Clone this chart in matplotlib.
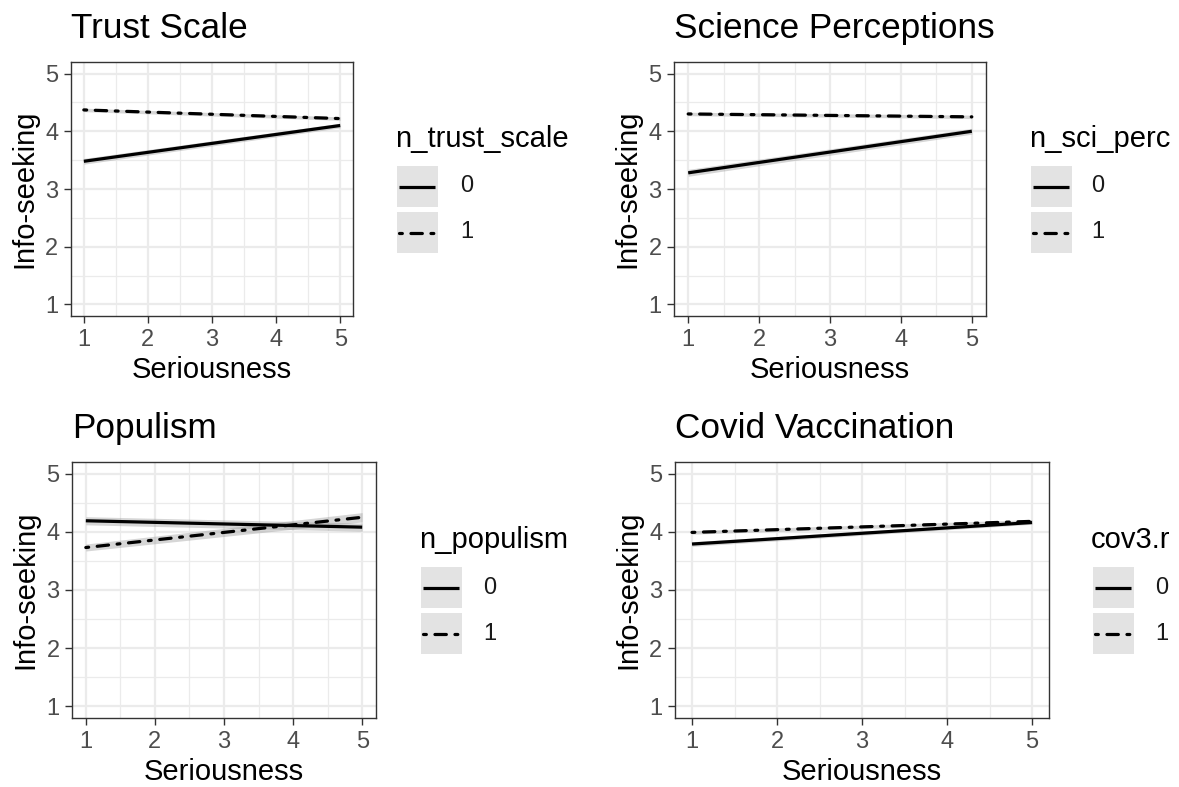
import matplotlib
matplotlib.use("Agg")
import matplotlib.pyplot as plt
from matplotlib.patches import Rectangle
from matplotlib.lines import Line2D
from matplotlib.ticker import MultipleLocator

plt.rcParams['font.family'] = ['Liberation Sans', 'DejaVu Sans']
plt.rcParams['lines.scale_dashes'] = False

# ---- data (linear fits, ends at seriousness = 1 and 5) ----
panel_titles = ["Trust Scale", "Science Perceptions", "Populism", "Covid Vaccination"]
legend_titles = ["n_trust_scale", "n_sci_perc", "n_populism", "cov3.r"]
group_labels = ["0", "1"]
x_ends = [1, 5]
fit_grp0 = [[3.48, 4.10], [3.28, 4.00], [4.19, 4.08], [3.79, 4.16]]
fit_grp1 = [[4.37, 4.22], [4.30, 4.25], [3.73, 4.25], [3.99, 4.18]]
ci_grp0 = [[0.05, 0.04], [0.06, 0.05], [0.07, 0.07], [0.04, 0.03]]
ci_grp1 = [[0.03, 0.03], [0.03, 0.03], [0.06, 0.08], [0.03, 0.03]]
ticks = [1, 2, 3, 4, 5]

W, H = 1179, 787
fig = plt.figure(figsize=(W / 100, H / 100), dpi=100)

# panel boxes in pixels: left, top, right, bottom
panel_px = [(71, 62, 353, 316), (674, 62, 986, 316),
            (72, 462, 376, 718), (675, 462, 1049, 718)]
# legend: key left x, key top y, label x
legend_px = [(397, 166, 460), (1031, 166, 1091), (421, 567, 483), (1093, 567, 1155)]

LW = 2.3
DOTDASH = (0, (2.05, 6.2, 8.2, 6.2))
styles = [dict(ls='-', solid_capstyle='butt'),
          dict(ls=DOTDASH, dash_capstyle='round')]
band_col = '#999999'


def fx(px):
    return px / W


def fy(py):
    return 1 - py / H


for i in range(4):
    l, t, r, b = panel_px[i]
    ax = fig.add_axes([fx(l), fy(b), (r - l) / W, (b - t) / H])
    fits = [fit_grp0[i], fit_grp1[i]]
    cis = [ci_grp0[i], ci_grp1[i]]
    for g in range(2):
        lo = [y - c for y, c in zip(fits[g], cis[g])]
        hi = [y + c for y, c in zip(fits[g], cis[g])]
        ax.fill_between(x_ends, lo, hi, color=band_col, alpha=0.4, lw=0, zorder=2)
        ax.plot(x_ends, fits[g], color='black', lw=LW, zorder=3, **styles[g])

    ax.set_xlim(0.8, 5.2)
    ax.set_ylim(0.8, 5.2)
    ax.set_xticks(ticks)
    ax.set_yticks(ticks)
    ax.xaxis.set_minor_locator(MultipleLocator(0.5))
    ax.yaxis.set_minor_locator(MultipleLocator(0.5))
    ax.grid(which='major', color='#ebebeb', lw=1.6)
    ax.grid(which='minor', color='#ebebeb', lw=0.9)
    ax.set_axisbelow(True)
    ax.tick_params(which='major', length=5, width=1.0, color='#333333',
                   labelcolor='#4d4d4d', labelsize=17, pad=4)
    ax.tick_params(which='minor', length=0)
    for s in ax.spines.values():
        s.set_color('#333333')
        s.set_linewidth(1.0)
    ax.set_xlabel('Seriousness', fontsize=21, labelpad=4)
    ax.set_ylabel('Info-seeking', fontsize=21, labelpad=5)
    ax.set_title(panel_titles[i], loc='left', fontsize=25.3, pad=17)

    # legend drawn by hand, ggplot style
    kx, ky, tx = legend_px[i]
    kw, kh, gap = 41, 41, 5
    fig.text(fx(kx - 2), fy(ky - 19), legend_titles[i], fontsize=21,
             ha='left', va='baseline')
    for g in range(2):
        y0 = ky + g * (kh + gap)
        fig.add_artist(Rectangle((fx(kx), fy(y0 + kh)), kw / W, kh / H,
                                 transform=fig.transFigure, facecolor='#e3e3e3',
                                 edgecolor='none'))
        ym = y0 + kh / 2
        fig.add_artist(Line2D([fx(kx + 2), fx(kx + kw - 3)], [fy(ym), fy(ym)],
                              transform=fig.transFigure, color='black', lw=LW,
                              **styles[g]))
        fig.text(fx(tx), fy(ym), group_labels[g], fontsize=17, color='#1a1a1a',
                 ha='left', va='center')

fig.savefig('out.png', dpi=100)
